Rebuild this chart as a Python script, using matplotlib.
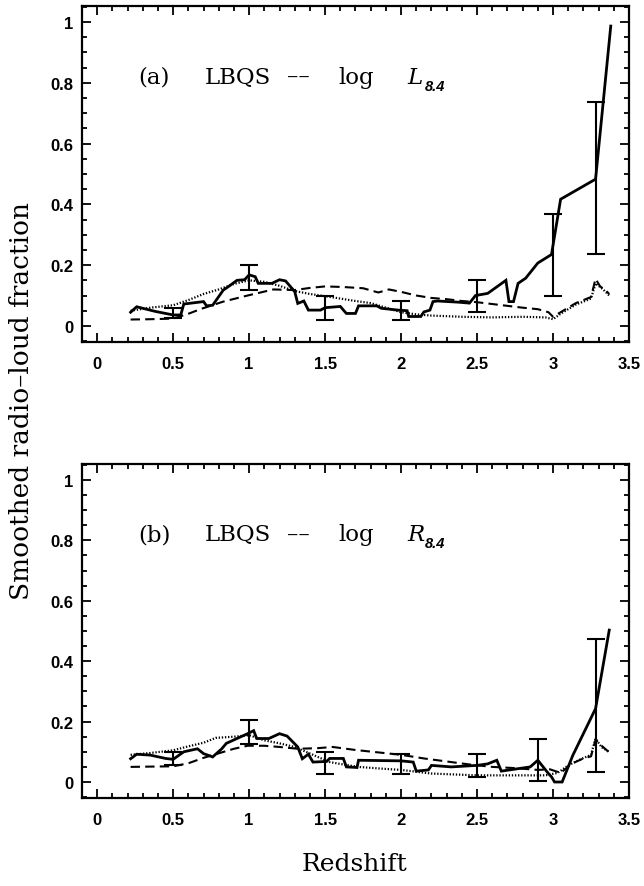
import numpy as np
import matplotlib
matplotlib.use("Agg")
import matplotlib.pyplot as plt
from matplotlib.ticker import MultipleLocator

# ---- panel (a): LBQS, log L_8.4 ----
z_obs_a = [0.22, 0.26, 0.38, 0.50, 0.55, 0.57, 0.70, 0.72, 0.76, 0.83, 0.86, 0.92,
           0.97, 1.00, 1.04, 1.06, 1.15, 1.20, 1.24, 1.30, 1.32, 1.36, 1.39, 1.47,
           1.50, 1.60, 1.64, 1.70, 1.72, 1.84, 1.87, 1.98, 2.04, 2.05, 2.13, 2.15,
           2.19, 2.21, 2.24, 2.38, 2.45, 2.49, 2.57, 2.69, 2.71, 2.74, 2.77, 2.82,
           2.90, 2.99, 3.05, 3.28, 3.38]
frac_obs_a = [0.045, 0.063, 0.048, 0.036, 0.036, 0.072, 0.080, 0.066, 0.068, 0.118,
              0.128, 0.150, 0.152, 0.168, 0.162, 0.140, 0.140, 0.152, 0.148, 0.113,
              0.074, 0.082, 0.052, 0.052, 0.060, 0.064, 0.041, 0.041, 0.066, 0.066,
              0.058, 0.052, 0.050, 0.031, 0.031, 0.046, 0.052, 0.080, 0.082, 0.078,
              0.075, 0.100, 0.107, 0.150, 0.080, 0.080, 0.140, 0.157, 0.207, 0.235,
              0.417, 0.483, 0.987]
z_err_a = [0.50, 1.00, 1.50, 2.00, 2.50, 3.00, 3.28]
lo_err_a = [0.025, 0.118, 0.021, 0.019, 0.046, 0.098, 0.238]
hi_err_a = [0.058, 0.201, 0.098, 0.082, 0.152, 0.367, 0.736]

z_dash_a = [0.22, 0.35, 0.50, 0.60, 0.69, 0.83, 0.99, 1.16, 1.30, 1.40, 1.50, 1.62,
            1.75, 1.85, 1.92, 2.00, 2.10, 2.20, 2.30, 2.40, 2.50, 2.60, 2.70, 2.80,
            2.90, 2.97, 3.00, 3.05, 3.10, 3.15, 3.20, 3.25, 3.28, 3.31, 3.34, 3.37]
frac_dash_a = [0.021, 0.022, 0.024, 0.040, 0.057, 0.080, 0.100, 0.120, 0.118, 0.125,
               0.130, 0.128, 0.124, 0.110, 0.120, 0.112, 0.100, 0.092, 0.088, 0.082,
               0.078, 0.072, 0.066, 0.060, 0.055, 0.045, 0.030, 0.045, 0.060, 0.075,
               0.085, 0.095, 0.155, 0.130, 0.120, 0.105]

z_dot_a = [0.22, 0.35, 0.50, 0.60, 0.70, 0.80, 0.90, 1.00, 1.10, 1.20, 1.30, 1.40,
           1.50, 1.60, 1.70, 1.80, 1.90, 2.00, 2.10, 2.20, 2.40, 2.60, 2.80, 2.95,
           3.00, 3.05, 3.15, 3.25, 3.28, 3.33, 3.37]
frac_dot_a = [0.050, 0.060, 0.068, 0.085, 0.105, 0.120, 0.138, 0.150, 0.145, 0.132,
              0.115, 0.105, 0.098, 0.090, 0.082, 0.075, 0.060, 0.045, 0.038, 0.034,
              0.030, 0.028, 0.030, 0.028, 0.022, 0.040, 0.070, 0.090, 0.140, 0.120,
              0.100]

# ---- panel (b): LBQS, log R_8.4 ----
z_obs_b = [0.22, 0.26, 0.35, 0.45, 0.50, 0.57, 0.66, 0.70, 0.76, 0.82, 0.85, 0.92,
           0.99, 1.03, 1.05, 1.13, 1.20, 1.25, 1.32, 1.35, 1.39, 1.42, 1.51, 1.53,
           1.62, 1.64, 1.71, 1.72, 2.00, 2.08, 2.10, 2.18, 2.20, 2.33, 2.50, 2.57,
           2.63, 2.66, 2.85, 2.90, 2.97, 2.99, 3.01, 3.06, 3.13, 3.28, 3.37]
frac_obs_b = [0.077, 0.092, 0.089, 0.078, 0.075, 0.100, 0.110, 0.094, 0.083, 0.110,
              0.128, 0.144, 0.160, 0.170, 0.144, 0.144, 0.160, 0.152, 0.116, 0.077,
              0.092, 0.066, 0.068, 0.078, 0.078, 0.050, 0.048, 0.072, 0.070, 0.066,
              0.036, 0.040, 0.055, 0.050, 0.055, 0.060, 0.072, 0.036, 0.050, 0.072,
              0.028, 0.017, 0.000, 0.000, 0.088, 0.243, 0.503]
z_err_b = [0.50, 1.00, 1.50, 2.00, 2.50, 2.90, 3.28]
lo_err_b = [0.055, 0.127, 0.028, 0.028, 0.017, 0.002, 0.033]
hi_err_b = [0.100, 0.205, 0.100, 0.094, 0.094, 0.142, 0.472]

z_dash_b = [0.22, 0.35, 0.50, 0.60, 0.70, 0.80, 0.90, 0.99, 1.10, 1.20, 1.32, 1.45,
            1.55, 1.70, 1.85, 2.00, 2.15, 2.30, 2.45, 2.60, 2.75, 2.90, 2.98, 3.05,
            3.12, 3.20, 3.25, 3.28, 3.32, 3.37]
frac_dash_b = [0.050, 0.051, 0.052, 0.062, 0.080, 0.095, 0.110, 0.120, 0.120, 0.116,
               0.110, 0.112, 0.116, 0.106, 0.098, 0.090, 0.078, 0.068, 0.058, 0.050,
               0.046, 0.040, 0.042, 0.030, 0.060, 0.078, 0.085, 0.140, 0.120, 0.098]

z_dot_b = [0.22, 0.35, 0.50, 0.60, 0.70, 0.78, 0.90, 1.00, 1.10, 1.20, 1.30, 1.42,
           1.53, 1.62, 1.72, 1.85, 2.00, 2.10, 2.20, 2.35, 2.50, 2.70, 2.95, 3.03,
           3.10, 3.18, 3.25, 3.28, 3.32, 3.37]
frac_dot_b = [0.090, 0.096, 0.105, 0.118, 0.130, 0.146, 0.150, 0.155, 0.138, 0.128,
              0.116, 0.090, 0.066, 0.058, 0.050, 0.045, 0.040, 0.034, 0.028, 0.025,
              0.022, 0.022, 0.022, 0.030, 0.055, 0.075, 0.090, 0.144, 0.115, 0.100]

panel_names = ["(a)", "(b)"]
panel_symbols = ["L", "R"]
xtick_labels = ["0", "0.5", "1", "1.5", "2", "2.5", "3", "3.5"]
ytick_labels = ["0", "0.2", "0.4", "0.6", "0.8", "1"]

plt.rcParams["font.family"] = ["DejaVu Serif"]
tick_font = {"family": "Liberation Sans", "weight": "bold", "size": 12}


def draw_panel(ax, z_obs, frac_obs, z_err, lo_err, hi_err,
               z_dash, frac_dash, z_dot, frac_dot, name, symbol):
    ax.plot(z_dot, frac_dot, color="black", lw=1.6, ls=(0, (0.6, 0.8)))
    ax.plot(z_dash, frac_dash, color="black", lw=1.5, ls=(0, (4.5, 2.5)))
    ax.plot(z_obs, frac_obs, color="black", lw=2.0, solid_joinstyle="miter")

    # error bars sit on the smoothed data curve
    mid = np.interp(z_err, z_obs, frac_obs)
    yerr = [mid - np.array(lo_err), np.array(hi_err) - mid]
    ax.errorbar(z_err, mid, yerr=yerr, fmt="none", ecolor="black",
                elinewidth=1.5, capsize=6.5, capthick=1.5)

    ax.set_xlim(-0.1, 3.5)
    ax.set_ylim(-0.053, 1.053)
    ax.xaxis.set_minor_locator(MultipleLocator(0.1))
    ax.yaxis.set_minor_locator(MultipleLocator(0.05))
    ax.set_xticks([float(t) for t in xtick_labels])
    ax.set_xticklabels(xtick_labels, fontdict=tick_font)
    ax.set_yticks([float(t) for t in ytick_labels])
    ax.set_yticklabels(ytick_labels, fontdict=tick_font)
    ax.tick_params(which="both", direction="in", top=True, right=True, width=1.3)
    ax.tick_params(which="major", length=6.5)
    ax.tick_params(which="minor", length=3.5)
    ax.tick_params(axis="x", pad=10)
    ax.tick_params(axis="y", pad=6)
    for sp in ax.spines.values():
        sp.set_linewidth(1.6)

    yb = 0.80
    ax.text(0.27, yb, name, fontsize=16.5, va="baseline")
    ax.text(0.71, yb, "LBQS", fontsize=16.5, va="baseline")
    ax.text(1.25, yb, "\u2013\u2013", fontsize=16.5, va="baseline")
    ax.text(1.59, yb, "log", fontsize=16.5, va="baseline")
    ax.text(2.04, yb, symbol, fontsize=16.5, va="baseline", style="italic")
    ax.text(2.155, yb - 0.022, "8.4", fontsize=10.5, va="baseline", style="italic",
            family="Liberation Sans", weight="bold")


fig = plt.figure(figsize=(6.44, 8.87), dpi=100)
ax_a = fig.add_axes([0.1273, 0.6133, 0.8494, 0.3788])
ax_b = fig.add_axes([0.1273, 0.0992, 0.8494, 0.3766])

draw_panel(ax_a, z_obs_a, frac_obs_a, z_err_a, lo_err_a, hi_err_a,
           z_dash_a, frac_dash_a, z_dot_a, frac_dot_a, panel_names[0], panel_symbols[0])
draw_panel(ax_b, z_obs_b, frac_obs_b, z_err_b, lo_err_b, hi_err_b,
           z_dash_b, frac_dash_b, z_dot_b, frac_dot_b, panel_names[1], panel_symbols[1])

fig.text(0.034, 0.548, "Smoothed radio\u2013loud fraction", rotation=90,
         ha="center", va="center", fontsize=19)
fig.text(0.551, 0.025, "Redshift", ha="center", va="center", fontsize=18)

fig.savefig("out.png", dpi=100)
